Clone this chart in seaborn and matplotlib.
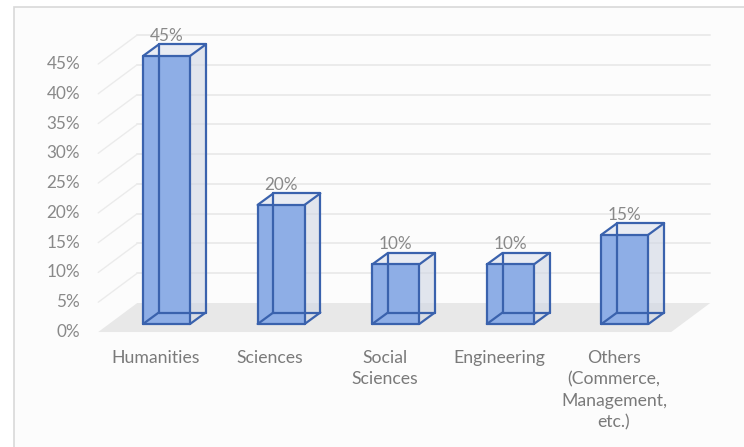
import matplotlib
matplotlib.use("Agg")
import matplotlib.pyplot as plt
import numpy as np
import pandas as pd
import seaborn as sns
from matplotlib.transforms import offset_copy, IdentityTransform
from matplotlib.patches import Polygon, Rectangle
from matplotlib.lines import Line2D

categories = ["Humanities", "Sciences", "Social\nSciences", "Engineering",
              "Others\n(Commerce,\nManagement,\netc.)"]
shares = [45, 20, 10, 10, 15]
y_ticks = [0, 5, 10, 15, 20, 25, 30, 35, 40, 45]
y_tick_labels = [f"{t}%" for t in y_ticks]

df = pd.DataFrame({"field": categories, "share": shares})

sns.set_theme(style="white")
plt.rcParams["font.family"] = ["Lato", "DejaVu Sans"]

W, H = 744, 447
fig = plt.figure(figsize=(W / 100, H / 100), dpi=100)
fig.patch.set_facecolor("white")

# chart frame
fig.add_artist(Rectangle((14, -5), 760, 445, transform=IdentityTransform(),
                         facecolor="#fcfcfc", edgecolor="#d9d9d9", lw=1.2, zorder=0))

ax = fig.add_axes([0, 0, 1, 1])
ax.patch.set_alpha(0)

FRONT_FILL = "#8eaee6"
EDGE = "#3a62ad"
sns.barplot(data=df, x="field", y="share", width=0.41, color=FRONT_FILL,
            saturation=1, ax=ax, zorder=5, edgecolor="none")
ax.set_axis_off()
ax.set_xlim(-1.453, 5.039)
ax.set_ylim(-20.65, 54.40)

# oblique depth offsets, in pixels (x right, y up)
FRONT = np.array([-11.0, -8.0])   # front edge of the floor
WALL = np.array([28.0, 21.0])     # back wall
DEPTH = np.array([15.7, 11.5])    # bar depth


def disp(x, y, off=(0.0, 0.0)):
    return ax.transData.transform((x, y)) + np.asarray(off)


ident = IdentityTransform()
x_lo, x_hi = -0.5, len(categories) - 0.5

# floor
floor = [disp(x_lo, 0, FRONT), disp(x_hi, 0, FRONT), disp(x_hi, 0, WALL), disp(x_lo, 0, WALL)]
ax.add_patch(Polygon(floor, closed=True, transform=ident, facecolor="#e8e8e8",
                     edgecolor="none", zorder=1))

# back-wall and side-wall gridlines
for t in y_ticks[1:]:
    a, b = disp(x_lo, t, WALL), disp(x_hi, t, WALL)
    ax.add_line(Line2D([a[0], b[0]], [a[1], b[1]], transform=ident,
                       color="#ebebeb", lw=1.4, zorder=1))
    c = disp(x_lo, t, FRONT)
    ax.add_line(Line2D([c[0], a[0]], [c[1], a[1]], transform=ident,
                       color="#ebebeb", lw=1.0, zorder=1))

# 3-D faces and edges for each bar
for p in ax.patches:
    if not hasattr(p, "get_height") or p.get_zorder() != 5:
        continue
    x0, w, h = p.get_x(), p.get_width(), p.get_height()
    A, B, C, D = disp(x0, 0), disp(x0 + w, 0), disp(x0 + w, h), disp(x0, h)
    A2, B2, C2, D2 = A + DEPTH, B + DEPTH, C + DEPTH, D + DEPTH
    ax.add_patch(Polygon([B, C, C2, B2], transform=ident, facecolor="#cfd6e4",
                         alpha=0.6, edgecolor="none", zorder=3))
    ax.add_patch(Polygon([D, C, C2, D2], transform=ident, facecolor="#e9ecf3",
                         edgecolor="none", zorder=3))
    edges = [(A, B), (B, C), (C, D), (D, A),
             (A2, B2), (B2, C2), (C2, D2), (D2, A2),
             (A, A2), (B, B2), (C, C2), (D, D2)]
    for s, e in edges:
        ax.add_line(Line2D([s[0], e[0]], [s[1], e[1]], transform=ident,
                           color=EDGE, lw=1.6, zorder=7, solid_capstyle="round"))

# value labels
lbl_tr = offset_copy(ax.transData, fig=fig, x=0, y=20, units="dots")
for i, v in enumerate(shares):
    ax.text(i, v, f"{v}%", transform=lbl_tr, ha="center", va="center",
            fontsize=12.3, color="#898989", zorder=8)

# y tick labels on the front edge
tick_tr = offset_copy(ax.transData, fig=fig, x=FRONT[0] - 18, y=FRONT[1], units="dots")
for t, s in zip(y_ticks, y_tick_labels):
    ax.text(x_lo, t, s, transform=tick_tr, ha="right", va="center",
            fontsize=12.3, color="#898989")

# category labels
cat_tr = offset_copy(ax.transData, fig=fig, x=FRONT[0], y=FRONT[1] - 18, units="dots")
for i, c in enumerate(categories):
    ax.text(i, 0, c, transform=cat_tr, ha="center", va="top", fontsize=12.7,
            color="#7a7a7a", linespacing=1.42)

fig.savefig("out.png", dpi=100)
